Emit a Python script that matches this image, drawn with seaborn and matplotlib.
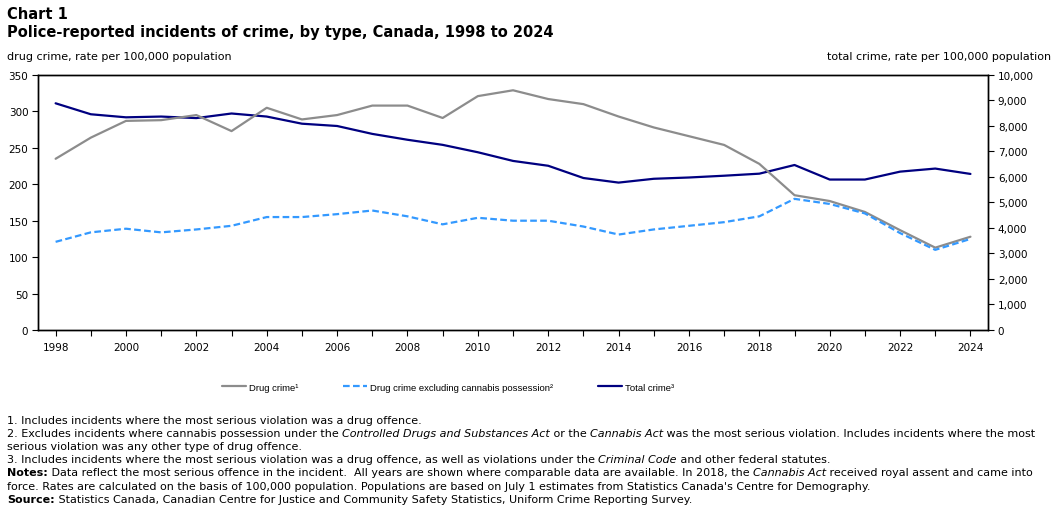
import matplotlib
matplotlib.use("Agg")
import matplotlib.pyplot as plt
import seaborn as sns
import pandas as pd
from matplotlib.lines import Line2D
from matplotlib.ticker import FuncFormatter, MultipleLocator

years = list(range(1998, 2025))

drug_crime = [235, 264, 287, 288, 295, 273, 305, 289, 295, 308, 308, 291, 321, 329,
              317, 310, 293, 278, 266, 254, 228, 185, 177, 162, 137, 113, 128]

drug_excl_cannabis = [121, 134, 139, 134, 138, 143, 155, 155, 159, 164, 156, 145, 154, 150,
                      150, 142, 131, 138, 143, 148, 156, 180, 173, 160, 133, 110, 125]

total_crime = [8890, 8460, 8340, 8370, 8310, 8490, 8370, 8090, 8000, 7690, 7460, 7260, 6970, 6630,
               6440, 5960, 5780, 5930, 5980, 6050, 6130, 6470, 5900, 5900, 6210, 6330, 6120]

series_labels = ["Drug crime\u00b9", "Drug crime excluding cannabis possession\u00b2", "Total crime\u00b3"]
series_colors = ["#8c8c8c", "#3399ff", "#000080"]

df = pd.DataFrame({"year": years, "drug": drug_crime, "excl": drug_excl_cannabis, "total": total_crime})

sns.set_style("white")
plt.rcParams["font.family"] = ["DejaVu Sans"]
plt.rcParams["text.color"] = "black"
plt.rcParams["axes.labelcolor"] = "black"

fig = plt.figure(figsize=(10.59, 5.10), dpi=100)
ax = fig.add_axes([0.0359, 0.351, 0.8971, 0.5])
ax2 = ax.twinx()

sns.lineplot(data=df, x="year", y="drug", ax=ax, color=series_colors[0], linewidth=1.6)
sns.lineplot(data=df, x="year", y="excl", ax=ax, color=series_colors[1], linewidth=1.6,
             linestyle=(0, (3, 1.5)))
sns.lineplot(data=df, x="year", y="total", ax=ax2, color=series_colors[2], linewidth=1.6)
ax2.set_zorder(ax.get_zorder() - 1)
ax.patch.set_visible(False)

ax.set_xlim(1997.5, 2024.5)
ax.set_ylim(0, 350)
ax2.set_ylim(0, 10000)
ax.yaxis.set_major_locator(MultipleLocator(50))
ax2.yaxis.set_major_locator(MultipleLocator(1000))
ax2.yaxis.set_major_formatter(FuncFormatter(lambda v, p: f"{int(v):,}"))
ax.set_xticks(years)
ax.set_xticklabels([str(y) if y % 2 == 0 else "" for y in years])
ax.set_xlabel("")
ax.set_ylabel("")
ax2.set_ylabel("")

for a in (ax, ax2):
    for s in a.spines.values():
        s.set_color("black")
        s.set_linewidth(1.0)
        s.set_visible(True)
ax.tick_params(axis="both", which="both", direction="out", length=4, width=0.8,
               labelsize=7.5, colors="black", pad=3)
ax.tick_params(axis="x", pad=5)
ax2.tick_params(axis="y", direction="out", length=4, width=0.8, labelsize=7.5, colors="black", pad=3)
ax.tick_params(left=True, bottom=True)
ax2.tick_params(right=True)

fig.text(0.0066, 0.972, "Chart 1", fontsize=10.5, fontweight="bold", va="center")
fig.text(0.0066, 0.937, "Police-reported incidents of crime, by type, Canada, 1998 to 2024",
         fontsize=10.5, fontweight="bold", va="center")
fig.text(0.0066, 0.889, "drug crime, rate per 100,000 population", fontsize=8.05, va="center")
fig.text(0.993, 0.889, "total crime, rate per 100,000 population", fontsize=8.05, va="center", ha="right")

handles = [
    Line2D([], [], color=series_colors[0], linewidth=1.6),
    Line2D([], [], color=series_colors[1], linewidth=1.6, linestyle=(0, (3, 1.5))),
    Line2D([], [], color=series_colors[2], linewidth=1.6),
]
fig.legend(handles, series_labels, loc="center", bbox_to_anchor=(0.423, 0.239), ncol=3,
           frameon=False, prop={"family": "Liberation Sans", "size": 6.8},
           handlelength=2.6, handletextpad=0.3, columnspacing=4.7)

# footnotes with mixed styles
foot_font = ["DejaVu Sans"]
foot_size = 8.05
renderer = fig.canvas.get_renderer()


def rich_line(x, y, pieces):
    for txt, style, weight in pieces:
        t = fig.text(x, y, txt, fontsize=foot_size, fontstyle=style, fontweight=weight,
                     family=foot_font, va="center", ha="left")
        bb = t.get_window_extent(renderer=renderer)
        x += bb.width / fig.bbox.width


N = ("normal", "normal")
lines = [
    [("1. Includes incidents where the most serious violation was a drug offence.",) + N],
    [("2. Excludes incidents where cannabis possession under the ",) + N,
     ("Controlled Drugs and Substances Act", "italic", "normal"),
     (" or the ",) + N, ("Cannabis Act", "italic", "normal"),
     (" was the most serious violation. Includes incidents where the most",) + N],
    [("serious violation was any other type of drug offence.",) + N],
    [("3. Includes incidents where the most serious violation was a drug offence, as well as violations under the ",) + N,
     ("Criminal Code", "italic", "normal"), (" and other federal statutes.",) + N],
    [("Notes:", "normal", "bold"),
     (" Data reflect the most serious offence in the incident.  All years are shown where comparable data are available. In 2018, the ",) + N,
     ("Cannabis Act", "italic", "normal"), (" received royal assent and came into",) + N],
    [("force. Rates are calculated on the basis of 100,000 population. Populations are based on July 1 estimates from Statistics Canada's Centre for Demography.",) + N],
    [("Source:", "normal", "bold"),
     (" Statistics Canada, Canadian Centre for Justice and Community Safety Statistics, Uniform Crime Reporting Survey.",) + N],
]
for i, pcs in enumerate(lines):
    rich_line(0.0066, 1 - (421 + i * 13.1) / 510, pcs)

fig.savefig("out.png", dpi=100)
